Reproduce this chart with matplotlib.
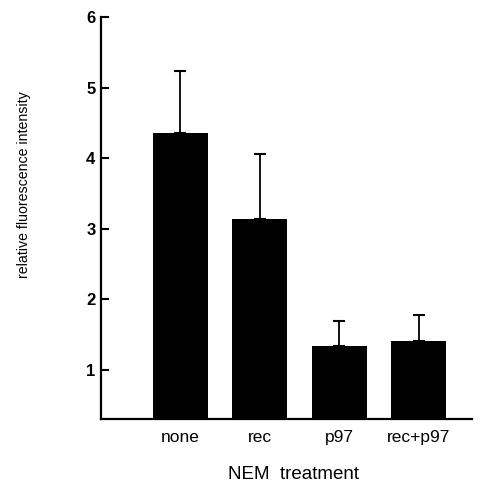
import numpy as np
import matplotlib
matplotlib.use('Agg')
import matplotlib.pyplot as plt

plt.rcParams['font.family'] = ['Liberation Sans', 'DejaVu Sans']

# Data
treatments = ['none', 'rec', 'p97', 'rec+p97']
intensity = [4.36, 3.14, 1.33, 1.40]
error_upper = [0.87, 0.92, 0.36, 0.37]
y_ticks = [1, 2, 3, 4, 5, 6]

fig = plt.figure(figsize=(4.96, 4.87), dpi=100)
ax = fig.add_axes([0.2036, 0.1396, 0.7480, 0.8255])

x = np.arange(len(treatments))
ax.bar(x, intensity, width=0.69, color='black', zorder=2)
ax.errorbar(x, intensity, yerr=[np.zeros(len(x)), error_upper], fmt='none',
            ecolor='black', elinewidth=1.3, capsize=4, capthick=1.5, zorder=1)

# Configure axes
ax.set_xlim(-1.0, 3.67)
ax.set_ylim(0.3, 6)
ax.set_yticks(y_ticks)
ax.set_yticklabels([str(t) for t in y_ticks], fontsize=12, fontweight='bold')
ax.set_xticks(x)
ax.set_xticklabels(treatments, fontsize=12.5)
ax.tick_params(axis='x', length=0, pad=8)
ax.tick_params(axis='y', direction='in', length=6, width=1.5, pad=4)

for side in ['top', 'right']:
	ax.spines[side].set_visible(False)
for side in ['left', 'bottom']:
	ax.spines[side].set_linewidth(1.6)

ax.set_xlabel('NEM  treatment', fontsize=13.5)
ax.xaxis.set_label_coords(0.52, -0.118)
fig.text(0.048, 0.62, 'relative fluorescence intensity', rotation=90,
         fontsize=10.2, ha='center', va='center')

fig.savefig('out.png', dpi=100)
